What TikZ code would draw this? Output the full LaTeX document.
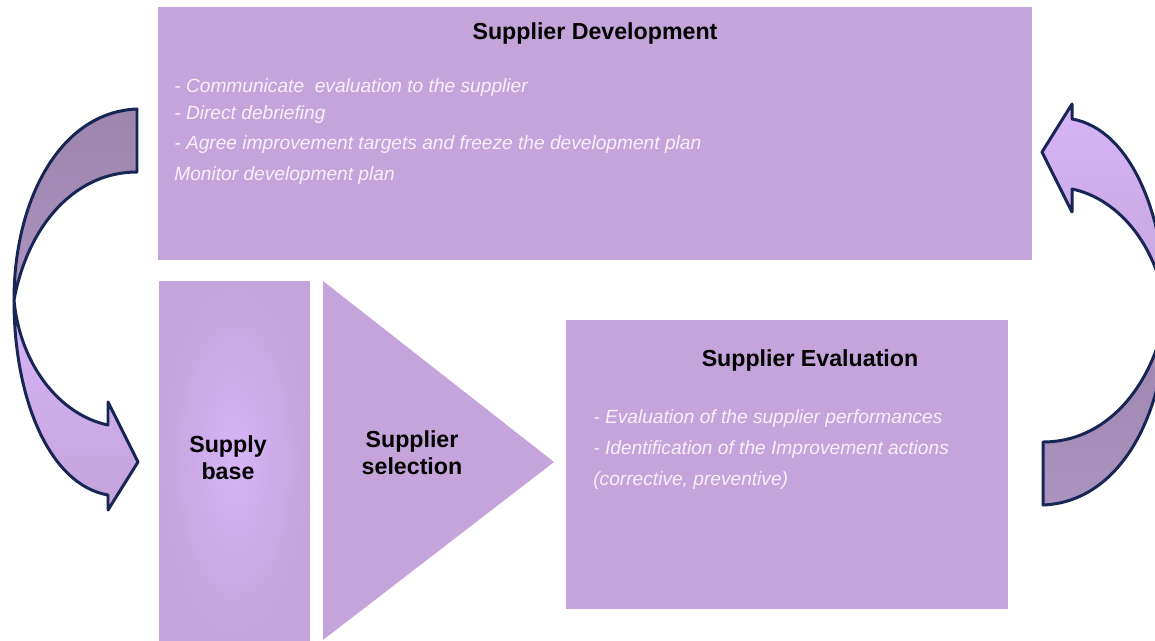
\documentclass[tikz,border=0pt]{standalone}
\usepackage{fontspec}
\setmainfont{Liberation Sans}
\usetikzlibrary{positioning}
\definecolor{lilac}{HTML}{C4A4DB}
\definecolor{lilaclight}{HTML}{D8B4F8}
\definecolor{lilacdark}{HTML}{9D85AD}
\definecolor{lilacmid}{HTML}{AB93BF}
\definecolor{navy}{HTML}{172654}
\definecolor{paletext}{HTML}{F6F0FA}

\begin{document}
\begin{tikzpicture}[x=0.02cm,y=-0.02cm,
  box/.style={fill=lilac},
  title/.style={font=\fontsize{13.2}{15.4}\selectfont\bfseries,align=center},
  bullets/.style={font=\fontsize{10.9}{17.1}\selectfont\itshape,text=paletext,
    align=left,anchor=base west,inner sep=0pt},
  twist/.style={draw=navy,line width=1.7pt,line join=round},
  pics/curvedarrow/.style={code={
    \path[twist,top color=lilacdark,bottom color=lilacmid]
      (137,109) .. controls (60,112) and (14,200) .. (14,300)
      .. controls (28,225) and (75,172) .. (137,172) -- cycle;
    \path[twist,top color=lilaclight,bottom color=lilac]
      (14,300) .. controls (20,365) and (60,415) .. (108,425)
      -- (108,402) -- (138,462) -- (108,510) -- (108,495)
      .. controls (50,485) and (14,400) .. (14,300) -- cycle;
  }}]
  \useasboundingbox (0,0) rectangle (1155,640);
  \clip (0,0) rectangle (1155,640);

  % boxes
  \path[box] (158,7) rectangle (1032,260);
  \path[box] (566,320) rectangle (1008,609);
  \path[inner color=lilaclight,outer color=lilac] (159,281) rectangle (310,640);
  \path[box] (323,281) -- (554,462) -- (323,640) -- cycle;

  % curved arrows
  \pic at (0,0) {curvedarrow};
  \pic[rotate=180] at (1180,614) {curvedarrow};

  \node[title] (devtitle) at (595,33) {Supplier Development};
  % base anchor = baseline of the last line
  \node[bullets] (devlist) at (174,180) {- Communicate\ \ evaluation to the supplier\\[-1.7pt]
    - Direct debriefing\\
    - Agree improvement targets and freeze the development plan\\
    Monitor development plan};

  \node[title] (base) at (228,458) {Supply\\base};
  \node[title] (sel) at (412,453) {Supplier\\selection};

  \node[title] (evtitle) at (810,360) {Supplier Evaluation};
  \node[bullets,font=\fontsize{10.9}{17.6}\selectfont\itshape] (evlist) at (593,485)
    {- Evaluation of the supplier performances\\
    - Identification of the Improvement actions\\
    (corrective, preventive)};
\end{tikzpicture}
\end{document}
